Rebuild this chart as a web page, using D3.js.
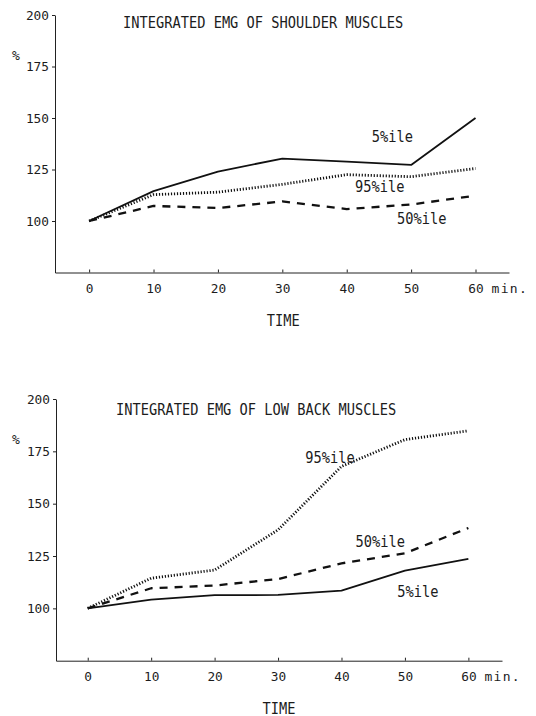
<!DOCTYPE html>
<html>
<head>
<meta charset="utf-8">
<style>
body { margin: 0; background: #fff; }
svg { display: block; background: #fff; }
text { font-family: "DejaVu Sans Mono", monospace; fill: #1c1c1c; }
.axis path, .axis line { stroke: #222; stroke-width: 1; }
.axis text { font-size: 12.8px; font-family: "DejaVu Sans Mono", monospace; fill: #1c1c1c; }
.line { fill: none; stroke: #111; stroke-linejoin: round; }
.p5 { stroke-width: 1.8; }
.p50 { stroke-width: 2.3; stroke-dasharray: 8,7; }
.p95 { stroke-width: 2.8; stroke-dasharray: 1.2,1.8; }
</style>
</head>
<body>
<svg width="536" height="716"></svg>
<script src="https://d3js.org/d3.v7.min.js"></script>
<script>

// minutes of work
var times = [0, 10, 20, 30, 40, 50, 60];
var xTicks = [0, 10, 20, 30, 40, 50, 60];
var yTicks = [100, 125, 150, 175, 200];

// integrated EMG, % of start value
var shoulder5  = [100, 114.5, 124, 130.3, 128.8, 127.2, 150];
var shoulder50 = [100, 107.3, 106.3, 109.5, 105.8, 108, 112.3];
var shoulder95 = [100, 112.8, 114, 117.8, 122.5, 121.5, 125.5];

var back5  = [100, 104.2, 106.3, 106.4, 108.5, 118, 123.6];
var back50 = [100, 109.6, 110.9, 114, 121.5, 126.3, 138.4];
var back95 = [100, 114.4, 118.3, 137.5, 167.8, 180.6, 184.8];

var svg = d3.select("svg");

var panels = [
  {
    title: "INTEGRATED EMG OF SHOULDER MUSCLES",
    titleX: 123, titleY: 28,
    xDomain: [-5.3, 65.2], xRange: [55, 509],
    yRange: [272.5, 15],
    series: [
      {cls: "p5", values: shoulder5},
      {cls: "p95", values: shoulder95},
      {cls: "p50", values: shoulder50}
    ],
    labels: [
      {text: "5%ile", t: 43.9, v: 138.5},
      {text: "95%ile", t: 41.3, v: 113.9},
      {text: "50%ile", t: 47.8, v: 98.4}
    ]
  },
  {
    title: "INTEGRATED EMG OF LOW BACK MUSCLES",
    titleX: 116, titleY: 415,
    xDomain: [-5, 65.3], xRange: [56, 502],
    yRange: [660.7, 399],
    series: [
      {cls: "p5", values: back5},
      {cls: "p95", values: back95},
      {cls: "p50", values: back50}
    ],
    labels: [
      {text: "95%ile", t: 34.3, v: 169.6},
      {text: "50%ile", t: 42.2, v: 129.4},
      {text: "5%ile", t: 48.8, v: 105.4}
    ]
  }
];

// plotter lettering is a bit taller than the screen font
function tallText(g, px, py, size, str) {
  return g.append("text")
      .attr("transform", "translate(" + px + "," + py + ") scale(1,1.12)")
      .style("font-size", size + "px")
      .text(str);
}

panels.forEach(function(p) {
  var x = d3.scaleLinear().domain(p.xDomain).range(p.xRange);
  var y = d3.scaleLinear().domain([75, 200]).range(p.yRange);
  var g = svg.append("g");

  var bottom = p.yRange[0], top = p.yRange[1];

  g.append("g")
      .attr("class", "axis")
      .attr("transform", "translate(0," + bottom + ")")
      .call(d3.axisBottom(x).tickValues(xTicks).tickSize(-3).tickSizeOuter(0).tickPadding(11.5));

  g.append("g")
      .attr("class", "axis")
      .attr("transform", "translate(" + p.xRange[0] + ",0)")
      .call(d3.axisLeft(y).tickValues(yTicks).tickSize(3).tickSizeOuter(0).tickPadding(3));

  var line = d3.line()
      .x(function(d, i) { return x(times[i]); })
      .y(function(d) { return y(d); });

  p.series.forEach(function(s) {
    g.append("path")
        .attr("class", "line " + s.cls)
        .attr("d", line(s.values));
  });

  p.labels.forEach(function(l) {
    tallText(g, x(l.t), y(l.v), 13.7, l.text);
  });

  tallText(g, p.titleX, p.titleY, 13.7, p.title);

  g.append("text")
      .attr("x", 12)
      .attr("y", top + 45)
      .style("font-size", "13px")
      .text("%");

  g.append("text")
      .attr("x", x(60) + 16)
      .attr("y", bottom + 20.5)
      .style("font-size", "13px")
      .style("letter-spacing", "1.3px")
      .text("min.");

  tallText(g, x(30) + 1, bottom + 53.5, 13.7, "TIME")
      .attr("text-anchor", "middle");
});

</script>
</body>
</html>
